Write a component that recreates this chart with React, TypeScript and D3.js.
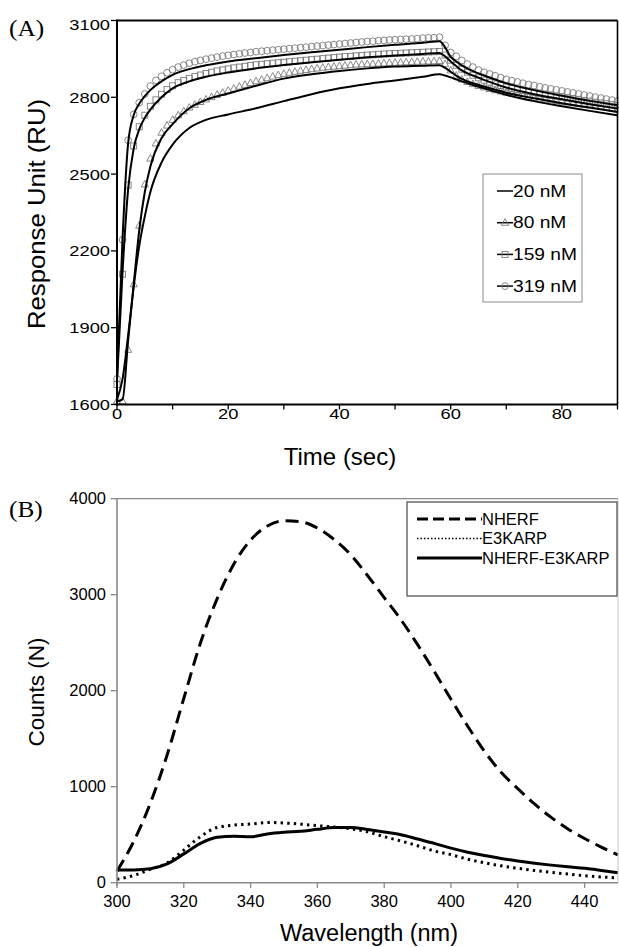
import React, { useLayoutEffect, useRef } from "react";
import * as d3 from "d3";

// ---------- Panel A data ----------
const SAMPLE_TIME = [
  0, 1, 2, 3, 4, 5, 6, 7, 8, 9, 10, 11, 12, 13, 14, 15, 16, 17, 18, 19, 20, 21, 22, 23, 24, 25, 26, 27, 28, 29,
  30, 31, 32, 33, 34, 35, 36, 37, 38, 39, 40, 41, 42, 43, 44, 45, 46, 47, 48, 49, 50, 51, 52, 53, 54, 55, 56, 57, 58, 59,
  60, 61, 62, 63, 64, 65, 66, 67, 68, 69, 70, 71, 72, 73, 74, 75, 76, 77, 78, 79, 80, 81, 82, 83, 84, 85, 86, 87, 88, 89, 90,
];
const DATA_80 = [
  1613, 1613, 1814, 2070, 2299, 2460, 2561, 2620, 2662, 2690, 2712, 2730, 2746, 2760, 2771, 2782, 2792, 2801, 2810, 2818,
  2826, 2834, 2842, 2849, 2856, 2863, 2869, 2875, 2881, 2887, 2892, 2896, 2900, 2904, 2907, 2910, 2913, 2916, 2918, 2920,
  2922, 2924, 2926, 2928, 2929, 2930, 2931, 2932, 2933, 2934, 2935, 2936, 2937, 2938, 2939, 2940, 2940, 2941, 2942, 2930,
  2905, 2885, 2870, 2860, 2852, 2845, 2839, 2833, 2828, 2823, 2818, 2814, 2810, 2806, 2802, 2798, 2795, 2792, 2789, 2786,
  2783, 2780, 2777, 2774, 2771, 2768, 2765, 2762, 2759, 2756, 2753,
];
const DATA_159 = [
  1678, 2109, 2457, 2610, 2685, 2730, 2765, 2790, 2812, 2830, 2845, 2857, 2866, 2874, 2881, 2887, 2893, 2898, 2903, 2907,
  2911, 2915, 2918, 2921, 2924, 2927, 2929, 2931, 2933, 2935, 2937, 2939, 2941, 2943, 2945, 2947, 2949, 2951, 2953, 2955,
  2957, 2959, 2960, 2962, 2963, 2965, 2966, 2968, 2969, 2970, 2971, 2972, 2973, 2974, 2975, 2976, 2977, 2978, 2979, 2965,
  2945, 2925, 2910, 2898, 2886, 2876, 2867, 2859, 2852, 2846, 2840, 2835, 2830, 2826, 2822, 2818, 2814, 2811, 2808, 2805,
  2802, 2798, 2795, 2792, 2788, 2785, 2781, 2778, 2775, 2771, 2768,
];
const DATA_319 = [
  1700, 2243, 2632, 2733, 2779, 2813, 2844, 2866, 2882, 2896, 2908, 2918, 2926, 2933, 2939, 2944, 2949, 2953, 2957, 2961,
  2964, 2967, 2970, 2973, 2975, 2978, 2980, 2982, 2984, 2986, 2988, 2990, 2992, 2994, 2996, 2998, 3000, 3002, 3004, 3006,
  3008, 3010, 3012, 3014, 3016, 3018, 3019, 3021, 3022, 3024, 3025, 3026, 3027, 3028, 3029, 3031, 3032, 3033, 3035, 3003,
  2975, 2960, 2944, 2930, 2918, 2906, 2898, 2891, 2884, 2877, 2870, 2865, 2860, 2855, 2850, 2846, 2841, 2837, 2833, 2829,
  2825, 2821, 2817, 2813, 2809, 2805, 2801, 2797, 2793, 2789, 2785,
];

const FIT_TIME = [0, 1, 2, 3, 4, 5, 6, 8, 10, 13, 16, 20, 25, 30, 35, 40, 45, 50, 55, 58, 59, 60, 61, 62, 64, 66, 70, 75, 80, 85, 90];
const FIT_20 = [1620, 1700, 1870, 2060, 2220, 2335, 2430, 2545, 2615, 2680, 2712, 2733, 2757, 2785, 2812, 2835, 2852, 2866, 2880, 2890, 2885, 2878, 2870, 2862, 2848, 2835, 2810, 2785, 2765, 2747, 2730];
const FIT_80 = [1613, 1620, 1850, 2070, 2280, 2430, 2530, 2640, 2695, 2757, 2790, 2815, 2845, 2873, 2890, 2903, 2913, 2920, 2923, 2925, 2915, 2900, 2885, 2872, 2855, 2842, 2818, 2796, 2777, 2760, 2743];
const FIT_159 = [1690, 2120, 2440, 2600, 2675, 2720, 2752, 2800, 2835, 2862, 2880, 2897, 2913, 2926, 2937, 2947, 2956, 2963, 2969, 2973, 2960, 2940, 2922, 2905, 2885, 2868, 2838, 2812, 2792, 2773, 2756];
const FIT_319 = [1700, 2250, 2620, 2730, 2775, 2805, 2828, 2862, 2888, 2910, 2925, 2940, 2953, 2965, 2976, 2986, 2996, 3005, 3013, 3019, 2995, 2958, 2940, 2925, 2902, 2885, 2855, 2828, 2806, 2786, 2769];

const A_Y_TICKS = [1600, 1900, 2200, 2500, 2800, 3100];
const A_X_TICKS = [0, 10, 20, 30, 40, 50, 60, 70, 80, 90];
const A_X_LABELS = [0, 20, 40, 60, 80];
const A_LEGEND = ["20 nM", "80 nM", "159 nM", "319 nM"];

// ---------- Panel B data ----------
const WAVELENGTH = [300, 305, 310, 315, 320, 325, 330, 335, 340, 345, 350, 355, 360, 365, 370, 375, 380, 385, 390, 395, 400, 405, 410, 415, 420, 425, 430, 435, 440, 445, 450];
const NHERF = [120, 430, 830, 1330, 1920, 2500, 2960, 3320, 3570, 3715, 3770, 3760, 3695, 3575, 3415, 3200, 2970, 2740, 2480, 2200, 1910, 1630, 1370, 1150, 980, 820, 680, 560, 460, 370, 289];
const E3KARP = [35, 75, 140, 205, 340, 480, 575, 600, 611, 627, 622, 610, 594, 580, 562, 530, 479, 435, 385, 330, 292, 245, 208, 176, 150, 128, 108, 90, 73, 60, 49];
const NHERF_E3KARP = [132, 133, 145, 195, 300, 410, 473, 485, 478, 508, 525, 535, 556, 574, 575, 555, 528, 500, 455, 410, 360, 318, 283, 253, 226, 203, 183, 165, 150, 128, 104];
const B_Y_TICKS = [0, 1000, 2000, 3000, 4000];
const B_X_TICKS = [300, 320, 340, 360, 380, 400, 420, 440];
const B_LEGEND = ["NHERF", "E3KARP", "NHERF-E3KARP"];

const SANS = "'Liberation Sans', Arial, Helvetica, sans-serif";
const SERIF = "'Liberation Serif', 'Times New Roman', serif";
const GRAY = "#8a8a8a";

function Marker({ kind, x, y }: { kind: string; x: number; y: number }) {
  const st = { fill: "none", stroke: "#7a7a7a", strokeWidth: 0.9 };
  if (kind === "circle") return <circle cx={x} cy={y} r={3.4} {...st} />;
  if (kind === "square") return <rect x={x - 3} y={y - 3} width={6} height={6} {...st} />;
  if (kind === "triangle") return <path d={`M${x},${y - 4}L${x + 3.6},${y + 2.6}L${x - 3.6},${y + 2.6}Z`} {...st} />;
  return null;
}

export default function App() {
  const ref = useRef<SVGSVGElement>(null);

  useLayoutEffect(() => {
    const svg = ref.current;
    if (!svg) return;
    svg.querySelectorAll("text[data-sx]").forEach((node) => {
      const el = node as SVGTextElement;
      if (el.getAttribute("textLength")) return;
      const s = +(el.getAttribute("data-sx") || "1");
      if (s === 1) return;
      const len = el.getComputedTextLength();
      el.setAttribute("textLength", String(len * s));
      el.setAttribute("lengthAdjust", "spacingAndGlyphs");
    });
  }, []);

  // Panel A scales
  const ax = d3.scaleLinear().domain([0, 90]).range([117, 617.5]);
  const ay = d3.scaleLinear().domain([1600, 3100]).range([404.5, 20.5]);
  const fitLine = d3
    .line<number>()
    .x((_, i) => ax(FIT_TIME[i]))
    .y((d) => ay(d))
    .curve(d3.curveMonotoneX);

  const markerSeries = [
    { data: DATA_80, kind: "triangle" },
    { data: DATA_159, kind: "square" },
    { data: DATA_319, kind: "circle" },
  ];
  const fits = [FIT_20, FIT_80, FIT_159, FIT_319];
  const legendKinds = ["none", "triangle", "square", "circle"];

  // Panel B scales
  const bx = d3.scaleLinear().domain([300, 450]).range([117, 618]);
  const by = d3.scaleLinear().domain([0, 4000]).range([882.7, 498.7]);
  const specLine = d3
    .line<number>()
    .x((_, i) => bx(WAVELENGTH[i]))
    .y((d) => by(d))
    .curve(d3.curveMonotoneX);

  const bStyles = [
    { data: NHERF, dash: "13 7", width: 3, legendDash: "11 5" },
    { data: E3KARP, dash: "2.4 4.2", width: 3, legendDash: "1.5 2" },
    { data: NHERF_E3KARP, dash: "none", width: 3, legendDash: "none" },
  ];

  return (
    <svg
      ref={ref}
      width={619}
      height={947}
      style={{ position: "absolute", left: 0, top: 0, background: "#fff" }}
      fontFamily={SANS}
    >
      <rect x={0} y={0} width={619} height={947} fill="#fff" />

      {/* ================= Panel A ================= */}
      <text x={9} y={36} fontFamily={SERIF} fontSize={23} data-sx="1.1">(A)</text>

      {markerSeries.map((s) =>
        s.data.map((v, i) => <Marker key={s.kind + i} kind={s.kind} x={ax(SAMPLE_TIME[i])} y={ay(v)} />)
      )}
      {fits.map((f, k) => (
        <path key={"fit" + k} d={fitLine(f) || ""} fill="none" stroke="#000" strokeWidth={2} strokeLinejoin="round" />
      ))}

      <line x1={117} x2={617.5} y1={20.5} y2={20.5} stroke="#000" strokeWidth={2} />
      <line x1={617.5} x2={617.5} y1={20.5} y2={404.5} stroke="#000" strokeWidth={1.6} />
      <line x1={117} x2={117} y1={19.5} y2={405.5} stroke="#000" strokeWidth={2} />
      <line x1={116} x2={618} y1={404.5} y2={404.5} stroke="#000" strokeWidth={2} />

      {A_Y_TICKS.map((t) => (
        <g key={"ayt" + t}>
          <line x1={111} x2={117} y1={ay(t)} y2={ay(t)} stroke="#000" strokeWidth={1.3} />
          <text x={110} y={ay(t) + (t === 3100 ? 4.5 : 0)} dy="0.35em" textAnchor="end" fontSize={15.5} data-sx="1.18">
            {t}
          </text>
        </g>
      ))}
      {A_X_TICKS.map((t) => (
        <line key={"axt" + t} x1={ax(t)} x2={ax(t)} y1={404.5} y2={409.5} stroke="#000" strokeWidth={1.3} />
      ))}
      {A_X_LABELS.map((t) => (
        <text key={"axl" + t} x={ax(t)} y={419} textAnchor="middle" fontSize={15.5} data-sx="1.18">
          {t}
        </text>
      ))}
      <text x={340} y={465} textAnchor="middle" fontSize={24}>Time (sec)</text>
      <text transform="translate(45,214) rotate(-90)" textAnchor="middle" fontSize={24.5} data-sx="1.05">
        Response Unit (RU)
      </text>

      <rect x={483} y={174} width={99} height={128} fill="#fff" stroke={GRAY} strokeWidth={1} />
      {A_LEGEND.map((name, i) => {
        const yy = 191 + i * 31.7;
        return (
          <g key={"la" + i}>
            <line x1={497} x2={513} y1={yy} y2={yy} stroke="#000" strokeWidth={1.5} />
            <Marker kind={legendKinds[i]} x={505} y={yy} />
            <text x={513} y={yy} dy="0.35em" fontSize={16} data-sx="1.2">{name}</text>
          </g>
        );
      })}

      {/* ================= Panel B ================= */}
      <text x={9} y={517} fontFamily={SERIF} fontSize={23} data-sx="1.1">(B)</text>

      {bStyles.map((s, k) => (
        <path
          key={"spec" + k}
          d={specLine(s.data) || ""}
          fill="none"
          stroke="#000"
          strokeWidth={s.width}
          strokeDasharray={s.dash}
        />
      ))}

      <line x1={117} x2={618} y1={498.7} y2={498.7} stroke={GRAY} strokeWidth={1.3} />
      <line x1={618} x2={618} y1={498.7} y2={882.7} stroke="#c8c8c8" strokeWidth={1} />
      <line x1={117} x2={117} y1={498} y2={886} stroke={GRAY} strokeWidth={1.6} />
      <line x1={117} x2={618} y1={882.7} y2={882.7} stroke={GRAY} strokeWidth={1.6} />

      {B_Y_TICKS.map((t) => (
        <g key={"byt" + t}>
          <line x1={110.5} x2={117} y1={by(t)} y2={by(t)} stroke={GRAY} strokeWidth={1.3} />
          <text x={106} y={by(t)} dy="0.35em" textAnchor="end" fontSize={16.5}>{t}</text>
        </g>
      ))}
      {B_X_TICKS.map((t) => (
        <g key={"bxt" + t}>
          <line x1={bx(t)} x2={bx(t)} y1={882.7} y2={888} stroke={GRAY} strokeWidth={1.3} />
          <text x={bx(t)} y={907} textAnchor="middle" fontSize={16.5}>{t}</text>
        </g>
      ))}
      <text x={369} y={941} textAnchor="middle" fontSize={23.5}>Wavelength (nm)</text>
      <text transform="translate(44,692) rotate(-90)" textAnchor="middle" fontSize={22.5}>Counts (N)</text>

      <rect x={407} y={502} width={210} height={94} fill="#fff" stroke="#555" strokeWidth={1.3} />
      {B_LEGEND.map((name, i) => {
        const yy = 519 + i * 19.5;
        const s = bStyles[i];
        return (
          <g key={"lb" + i}>
            <line
              x1={417}
              x2={482}
              y1={yy}
              y2={yy}
              stroke="#000"
              strokeWidth={i === 1 ? 1.6 : 3}
              strokeDasharray={s.legendDash}
            />
            <text x={482} y={yy} dy="0.35em" fontSize={16.5}>{name}</text>
          </g>
        );
      })}
    </svg>
  );
}
